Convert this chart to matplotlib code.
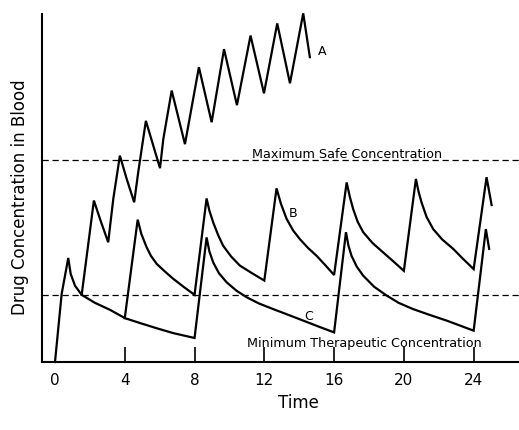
import matplotlib
matplotlib.use("Agg")
import matplotlib.pyplot as plt

# curve C (single dose every 8 h, includes the shared first dose)
t_c = [0, 0.38, 0.76, 0.90, 1.15, 1.53, 2.29, 3.15, 4.01, 4.87, 5.83, 6.78, 8.0,
       8.69, 8.85, 9.07, 9.4, 9.84, 10.4, 10.99, 11.7, 12.51, 13.4, 14.23, 15.1, 16.0,
       16.68, 16.82, 17.0, 17.3, 17.67, 18.3, 19.01, 19.7, 20.53, 21.5, 22.45, 23.2, 24.0,
       24.70, 24.89]
y_c = [0, 1.95, 2.99, 2.53, 2.19, 1.93, 1.70, 1.50, 1.26, 1.12, 0.97, 0.83, 0.69,
       3.58, 3.18, 2.86, 2.55, 2.29, 2.05, 1.86, 1.68, 1.52, 1.35, 1.19, 1.02, 0.85,
       3.73, 3.35, 3.05, 2.74, 2.48, 2.16, 1.91, 1.70, 1.52, 1.35, 1.19, 1.05, 0.90,
       3.82, 3.25]

# curve B (branches off C at t=4)
t_b = [4.0, 4.74, 4.95, 5.25, 5.5, 5.83, 6.3, 6.78, 7.4, 8.0,
       8.69, 8.85, 9.07, 9.35, 9.64, 10.1, 10.60, 11.3, 12.0,
       12.70, 12.95, 13.28, 13.65, 14.04, 14.5, 15.0, 15.5, 16.0,
       16.72, 16.9, 17.09, 17.35, 17.67, 18.2, 18.81, 19.4, 20.0,
       20.69, 20.83, 21.01, 21.3, 21.68, 22.2, 22.83, 23.4, 24.0,
       24.74, 25.03]
y_b = [1.26, 4.09, 3.68, 3.30, 3.05, 2.82, 2.60, 2.39, 2.15, 1.93,
       4.70, 4.35, 4.01, 3.65, 3.34, 3.03, 2.77, 2.55, 2.34,
       4.99, 4.55, 4.11, 3.78, 3.53, 3.28, 3.05, 2.78, 2.50,
       5.16, 4.75, 4.40, 4.03, 3.73, 3.42, 3.15, 2.89, 2.62,
       5.26, 4.92, 4.59, 4.17, 3.82, 3.52, 3.25, 2.96, 2.67,
       5.31, 4.51]

# curve A (branches off C at t=1.53)
t_a = [1.53, 2.23, 2.58, 3.05, 3.34, 3.72, 4.11, 4.54, 4.77, 5.21, 6.02, 6.21, 6.69,
       7.45, 8.25, 8.98, 9.69, 10.43, 11.21, 11.98, 12.74, 13.47, 14.23, 14.61]
y_a = [1.93, 4.64, 4.11, 3.44, 4.68, 5.93, 5.26, 4.59, 5.45, 6.93, 5.57, 6.41, 7.80,
       6.26, 8.47, 6.89, 8.99, 7.38, 9.38, 7.72, 9.73, 8.01, 10.02, 8.76]

max_safe = 5.80
min_ther = 1.92
xticks = [0, 4, 8, 12, 16, 20, 24]

fig = plt.figure(figsize=(5.19, 4.31), dpi=100)
ax = fig.add_axes([42/519, 68/431, 477/519, 348/431])

for t, y in [(t_c, y_c), (t_b, y_b), (t_a, y_a)]:
    ax.plot(t, y, color='black', lw=1.6, solid_joinstyle='miter', clip_on=False)

ax.axhline(max_safe, color='black', lw=0.9, dashes=(5, 3))
ax.axhline(min_ther, color='black', lw=0.9, dashes=(5, 3))

ax.text(11.3, 5.98, 'Maximum Safe Concentration', fontsize=9.2, va='center')
ax.text(11.0, 0.57, 'Minimum Therapeutic Concentration', fontsize=9.2, va='center')
ax.text(15.1, 8.94, 'A', fontsize=9, va='center')
ax.text(13.4, 4.31, 'B', fontsize=9, va='center')
ax.text(14.3, 1.35, 'C', fontsize=9, va='center')

ax.set_xlim(-0.745, 26.6)
ax.set_ylim(0, 10.0)
ax.spines['top'].set_visible(False)
ax.spines['right'].set_visible(False)
ax.spines['left'].set_linewidth(1.5)
ax.spines['bottom'].set_linewidth(1.5)
ax.set_yticks([])
ax.set_xticks(xticks)
ax.tick_params(axis='x', direction='in', length=11, width=1.2, pad=7, labelsize=11)
ax.xaxis.get_major_ticks()[0].tick1line.set_visible(False)

fig.text(298/519, 1 - 403/431, 'Time', fontsize=12, ha='center', va='center')
fig.text(20/519, 1 - 197/431, 'Drug Concentration in Blood', fontsize=12,
         rotation=90, ha='center', va='center')

fig.savefig('out.png', dpi=100)
